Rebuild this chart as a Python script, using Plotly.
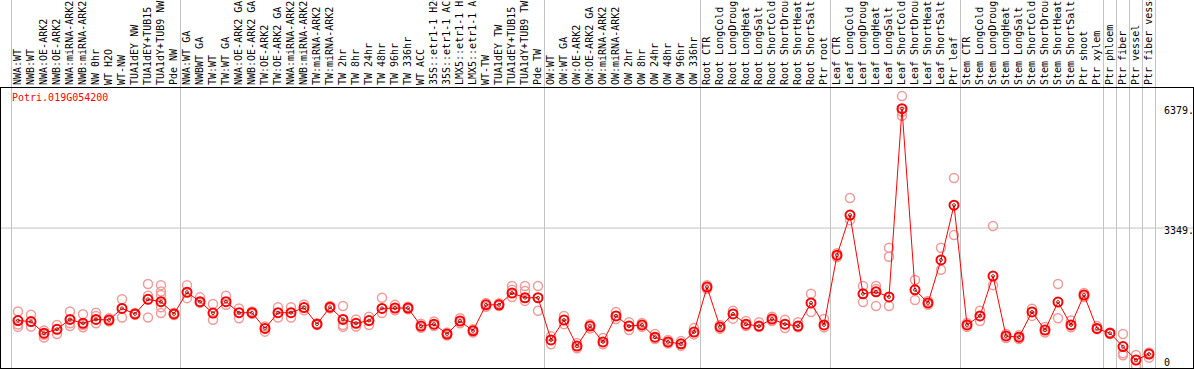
import plotly.graph_objects as go

gene_id = "Potri.019G054200"

categories = [
    "NWA:WT", "NWB:WT", "NWA:OE-ARK2", "NWB:OE-ARK2", "NWA:miRNA-ARK2", "NWB:miRNA-ARK2",
    "NW 0hr", "WT H2O", "WT-NW", "TUA1dEY NW", "TUA1dEY+TUB15", "TUA1dY+TUB9 NW", "Pde NW",
    "NWA:WT GA", "NWBWT GA", "TW:WT", "TW:WT GA", "NWA:OE-ARK2 GA", "NWB:OE-ARK2 GA",
    "TW:OE-ARK2", "TW:OE-ARK2 GA", "NWA:miRNA-ARK2", "NWB:miRNA-ARK2", "TW:miRNA-ARK2",
    "TW:miRNA-ARK2", "TW 2hr", "TW 8hr", "TW 24hr", "TW 48hr", "TW 96hr", "TW 336hr",
    "WT ACC", "35S::etr1-1 H2O", "35S::etr1-1 ACC", "LMX5::etr1-1 H2O", "LMX5::etr1-1 ACC",
    "WT-TW", "TUA1dEY TW", "TUA1dEY+TUB15", "TUA1dY+TUB9 TW", "Pde TW",
    "OW:WT", "OW:WT GA", "OW:OE-ARK2", "OW:OE-ARK2 GA", "OW:miRNA-ARK2", "OW:miRNA-ARK2",
    "OW 2hr", "OW 8hr", "OW 24hr", "OW 48hr", "OW 96hr", "OW 336hr",
    "Root CTR", "Root LongCold", "Root LongDrought", "Root LongHeat", "Root LongSalt",
    "Root ShortCold", "Root ShortDrought", "Root ShortHeat", "Root ShortSalt", "Ptr root",
    "Leaf CTR", "Leaf LongCold", "Leaf LongDrought", "Leaf LongHeat", "Leaf LongSalt",
    "Leaf ShortCold", "Leaf ShortDrought", "Leaf ShortHeat", "Leaf ShortSalt", "Ptr leaf",
    "Stem CTR", "Stem LongCold", "Stem LongDrought", "Stem LongHeat", "Stem LongSalt",
    "Stem ShortCold", "Stem ShortDrought", "Stem ShortHeat", "Stem ShortSalt", "Ptr shoot",
    "Ptr xylem", "Ptr phloem", "Ptr fiber", "Ptr vessel", "Ptr fiber vessel",
]

means = [
    1000, 975, 680, 780, 1030, 930, 1030, 1015, 1310, 1170, 1540, 1480, 1170,
    1720, 1480, 1190, 1480, 1200, 1200, 800, 1200, 1200, 1330, 910, 1340, 1030, 930,
    1000, 1310, 1320, 1320, 860, 910, 660, 990, 740, 1400, 1400, 1700, 1580, 1580,
    510, 1015, 355, 860, 460, 1120, 860, 890, 580, 460, 410, 710,
    1850, 840, 1170, 910, 860, 1040, 910, 860, 1450, 890,
    2660, 3680, 1680, 1730, 1600, 6379, 1780, 1450, 2540, 3930,
    890, 1120, 2130, 610, 580, 1220, 760, 1470, 890, 1650, 800,
    680, 340, 0, 150,
]

replicates = [
    [1230, 900, 840], [1150, 850], [750, 570, 640], [890, 660], [1230, 860, 930],
    [1160, 830, 890], [1200, 930, 1120], [1060, 980], [1540, 1080], [1190, 1150],
    [1930, 1630, 1080], [1900, 1740, 1650, 1340, 1190], [1200, 1140],
    [1900, 1570], [1590, 1450], [1420, 1020], [1630, 1400], [1310, 1060], [1230, 1170],
    [720, 850], [1340, 1080], [1340, 1080], [1410, 1260], [930, 890], [1370, 1310],
    [1370, 890, 840], [1030, 850], [1100, 890], [1580, 1190], [1400, 1260], [1350, 1290],
    [920, 820], [980, 860], [700, 620], [1060, 930], [780, 700], [1450, 1350],
    [1440, 1370], [1880, 1780, 1600], [1880, 1750, 1500], [1880, 1250],
    [600, 400], [1120, 910], [430, 300], [910, 800], [560, 400], [1220, 1040],
    [960, 760], [940, 840], [660, 530], [510, 420], [480, 360], [810, 650],
    [1900, 1800], [890, 790], [1250, 1050], [990, 860], [960, 840], [1100, 990],
    [1020, 810], [960, 830], [1680, 1220], [1040, 830],
    [2710, 2610], [4110, 3550], [1880, 1470], [1880, 1370, 1800], [2850, 2620, 1370],
    [6698, 6300, 6200], [2030, 1520], [1500, 1400], [2850, 2290], [4620, 3170],
    [940, 840], [1250, 990], [3400, 1900], [660, 560], [630, 530], [1300, 1120],
    [840, 700], [1930, 1060], [1000, 830], [1700, 1600], [860, 780],
    [660, 700], [660, 170, 120], [130, -150], [190, 60],
]

# group boundaries (between category indices)
group_bounds = [-0.5, 12.5, 40.5, 52.5, 62.5, 72.5, 83.5, 84.5, 85.5, 86.5, 87.5]

y_ticks = [0, 3349, 6379]
y_ticktext = ["0", "3349.", "6379."]

xs = list(range(len(categories)))
rep_x, rep_y = [], []
for i, reps in enumerate(replicates):
    for v in reps:
        rep_x.append(i)
        rep_y.append(v)

mono = "DejaVu Sans Mono"

fig = go.Figure()
fig.add_trace(go.Scatter(
    x=rep_x, y=rep_y, mode="markers",
    marker=dict(symbol="circle-open", size=9, color="#f09a9a", line=dict(width=1.5)),
    hoverinfo="skip", showlegend=False,
))
fig.add_trace(go.Scatter(
    x=xs, y=means, mode="lines+markers",
    line=dict(color="#ff0000", width=1),
    marker=dict(symbol="circle-open", size=9, color="#ff0000", line=dict(width=2)),
    showlegend=False,
))
fig.add_trace(go.Scatter(
    x=xs, y=means, mode="markers",
    marker=dict(symbol="circle-open", size=3, color="#7a0000", line=dict(width=0.8)),
    hoverinfo="skip", showlegend=False,
))

shapes = []
top_extent = 1 + 88 / 280
for b in group_bounds:
    shapes.append(dict(type="line", xref="x", yref="paper", x0=b, x1=b, y0=0, y1=top_extent,
                       line=dict(color="#c4c4c4", width=1), layer="below"))
shapes.append(dict(type="line", xref="paper", yref="y", x0=0, x1=1, y0=y_ticks[1], y1=y_ticks[1],
                   line=dict(color="#c4c4c4", width=1), layer="below"))

annotations = [dict(
    text=gene_id, xref="paper", yref="paper", x=(10 - 1) / 1192, y=1 - (97 - 88) / 280,
    xanchor="left", yanchor="middle", showarrow=False,
    font=dict(family=mono, size=10, color="#ff0000"),
)]
for v, t in zip(y_ticks, y_ticktext):
    annotations.append(dict(
        text=t, xref="paper", yref="y", x=(1162 - 1) / 1192, y=v, yshift=-2,
        xanchor="left", yanchor="middle", showarrow=False,
        font=dict(family=mono, size=10, color="#000000"),
    ))

fig.update_layout(
    width=1194, height=370,
    margin=dict(l=1, r=1, t=88, b=2, pad=0, autoexpand=False),
    paper_bgcolor="white", plot_bgcolor="white",
    shapes=shapes, annotations=annotations,
    xaxis=dict(
        side="top", range=[-1.3077, 90.385], tickmode="array", tickvals=xs, ticktext=categories,
        tickangle=-90, tickfont=dict(family=mono, size=10, color="black"), automargin=False,
        showgrid=False, zeroline=False, showline=True, mirror=True, linecolor="black", linewidth=1,
        ticks="", fixedrange=True,
    ),
    yaxis=dict(
        range=[-203, 6904], showticklabels=False, showgrid=False, zeroline=False, automargin=False,
        showline=True, mirror=True, linecolor="black", linewidth=1, ticks="",
    ),
)

fig.write_html(
    "out.html",
    config={"displayModeBar": False},
    post_script="document.body.style.margin='0px';document.body.style.overflow='hidden';",
)
